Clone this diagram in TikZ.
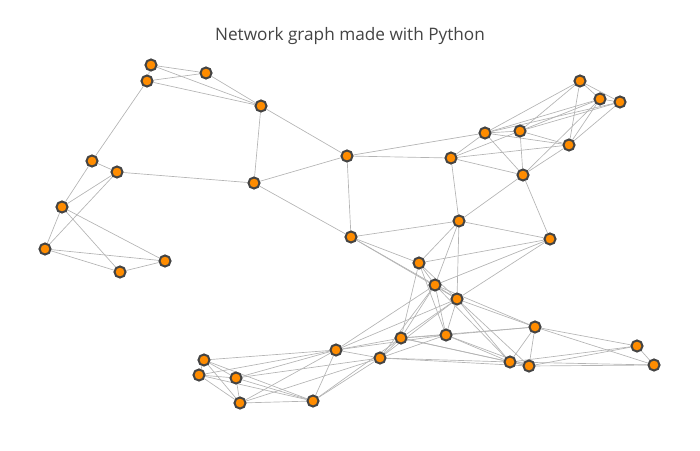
\documentclass[tikz,border=0pt]{standalone}
\usepackage{fontspec}
\setmainfont{Open Sans}
\usetikzlibrary{backgrounds}
\definecolor{nodefill}{HTML}{FF8C00}
\definecolor{nodeline}{HTML}{444444}
\definecolor{edgecol}{HTML}{B4B4B4}
\definecolor{titlecol}{HTML}{444444}
\tikzset{
  nd/.style={circle, fill=nodefill, draw=nodeline, line width=1.5pt, minimum size=8.3pt, inner sep=0pt},
  edge/.style={draw=edgecol, line width=0.5pt},
  ttl/.style={font=\fontsize{12.9}{15}\selectfont, text=titlecol}
}
\begin{document}
\begin{tikzpicture}[x=0.75pt,y=-0.75pt]
\useasboundingbox (0,0) rectangle (700,450);
\node[ttl] (title) at (350,36) {Network graph made with Python};
\node[nd] (n1) at (151,65) {};
\node[nd] (n2) at (206,73) {};
\node[nd] (n3) at (147,81) {};
\node[nd] (n4) at (261,106) {};
\node[nd] (n5) at (92,161) {};
\node[nd] (n6) at (117,172) {};
\node[nd] (n7) at (254,183) {};
\node[nd] (n8) at (62,207) {};
\node[nd] (n9) at (45,249) {};
\node[nd] (n10) at (120,272) {};
\node[nd] (n11) at (165,261) {};
\node[nd] (n12) at (347,156) {};
\node[nd] (n13) at (351,237) {};
\node[nd] (n14) at (580,81) {};
\node[nd] (n15) at (600,99) {};
\node[nd] (n16) at (620,102) {};
\node[nd] (n17) at (485,133) {};
\node[nd] (n18) at (520,131) {};
\node[nd] (n19) at (569,145) {};
\node[nd] (n20) at (451,158) {};
\node[nd] (n21) at (523,175) {};
\node[nd] (n22) at (459,221) {};
\node[nd] (n23) at (550,239) {};
\node[nd] (n24) at (419,263) {};
\node[nd] (n25) at (435,285) {};
\node[nd] (n26) at (457,299) {};
\node[nd] (n27) at (535,327) {};
\node[nd] (n28) at (401,338) {};
\node[nd] (n29) at (446,335) {};
\node[nd] (n30) at (336,350) {};
\node[nd] (n31) at (380,358) {};
\node[nd] (n32) at (510,362) {};
\node[nd] (n33) at (529,366) {};
\node[nd] (n34) at (637,346) {};
\node[nd] (n35) at (654,365) {};
\node[nd] (n36) at (204,360) {};
\node[nd] (n37) at (199,375) {};
\node[nd] (n38) at (236,378) {};
\node[nd] (n39) at (240,403) {};
\node[nd] (n40) at (313,401) {};
\begin{scope}[on background layer]
\foreach \a/\b in {1/2,1/3,1/4,2/3,2/4,3/4,3/5,4/7,4/12,
  5/6,5/8,6/7,6/8,6/9,7/12,7/13,8/9,8/10,8/11,9/10,9/11,10/11,
  12/13,12/17,12/20,
  13/22,13/24,13/25,13/26,
  14/15,14/16,14/17,14/18,14/19,
  15/16,15/17,15/18,15/19,15/21,
  16/17,16/18,16/19,
  17/18,17/19,17/20,17/21,
  18/19,18/20,18/21,
  19/20,19/21,
  20/21,20/22,
  21/22,21/23,
  22/23,22/24,22/25,22/26,
  23/24,23/25,23/26,
  24/25,24/26,24/28,24/29,
  25/26,25/27,25/28,25/29,25/30,25/31,25/32,
  26/27,26/28,26/29,26/30,26/31,26/32,26/33,
  27/28,27/29,27/32,27/33,27/34,27/35,
  28/29,28/30,28/31,28/32,28/33,28/40,
  29/30,29/31,29/32,29/33,
  30/31,30/36,30/37,30/38,30/39,30/40,
  31/32,31/33,31/38,31/39,31/40,
  32/33,32/34,32/35,
  33/34,33/35,34/35,
  36/37,36/38,36/39,36/40,
  37/38,37/39,37/40,
  38/39,38/40,39/40}
  \draw[edge] (n\a) -- (n\b);
\end{scope}
\end{tikzpicture}
\end{document}
